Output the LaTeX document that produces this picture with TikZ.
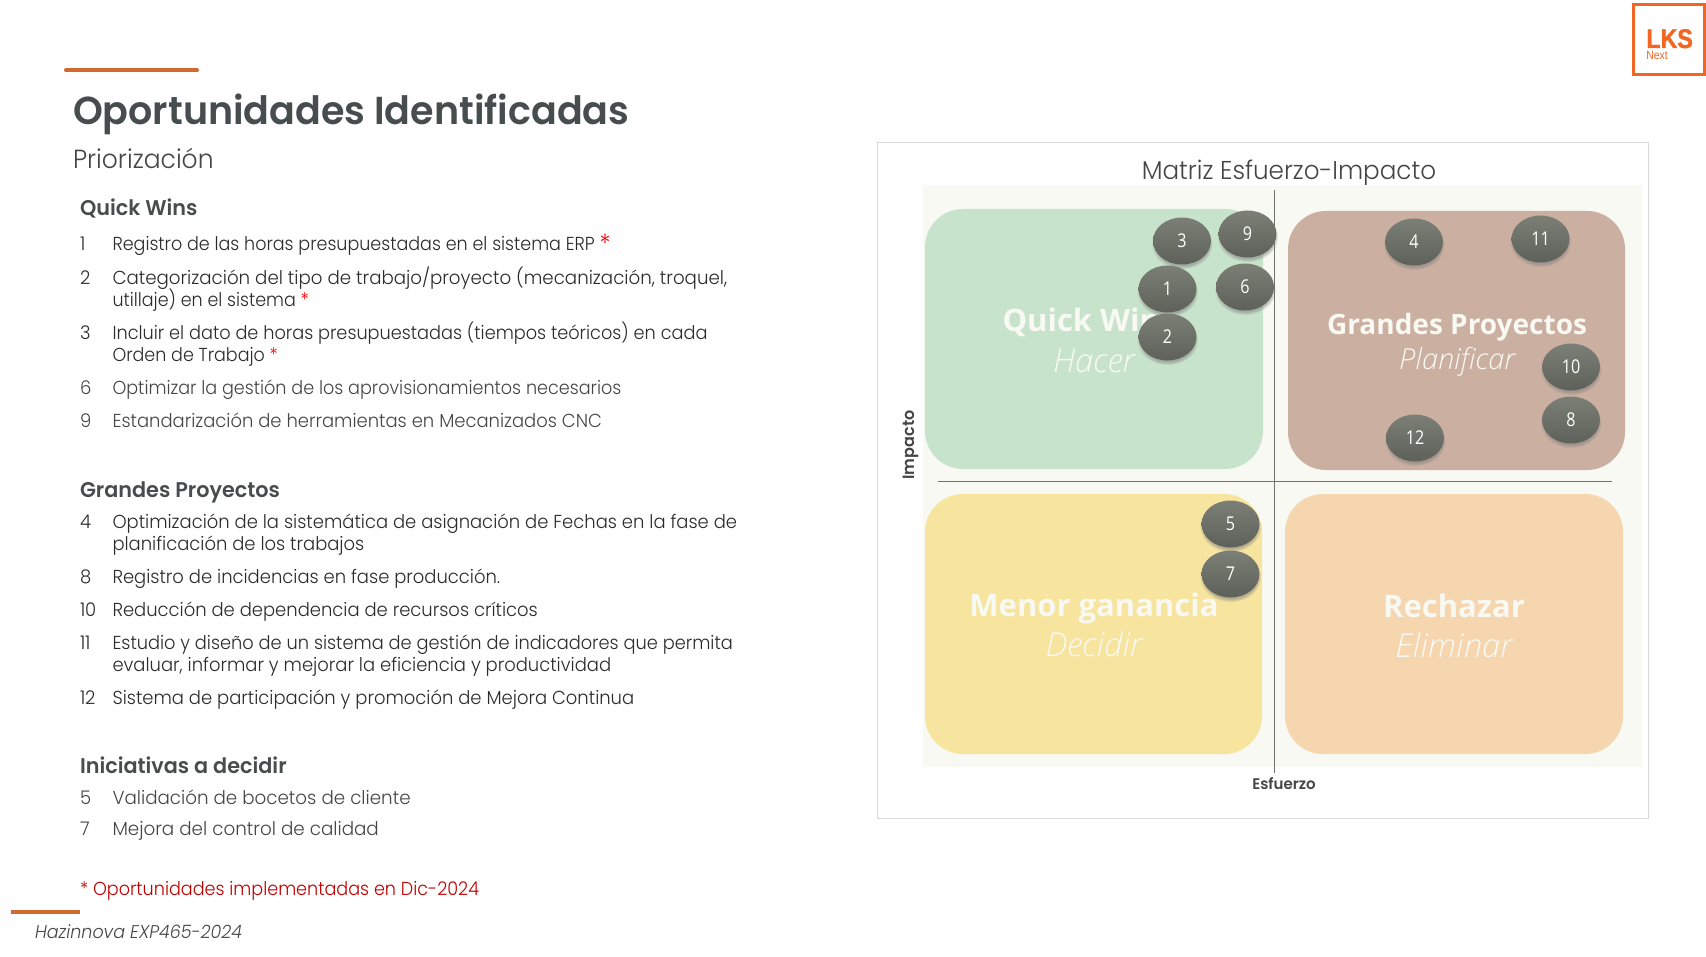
\documentclass[tikz,border=0pt]{standalone}
\usepackage{fontspec}
\usetikzlibrary{shapes.geometric,shadows}
\setmainfont{Poppins Light}[FakeStretch=0.955,BoldFont=Poppins SemiBold,BoldFeatures={FakeStretch=0.975},ItalicFont=Poppins Light Italic,ItalicFeatures={FakeStretch=0.95}]
\newfontfamily\quadfont{Open Sans}
\newfontfamily\quadlight{Open Sans Light}[ItalicFont=Open Sans Light Italic]
\newfontfamily\dotfont{Open Sans}[FakeStretch=0.85]
\newfontfamily\logofont{Liberation Sans}[FakeStretch=0.86,BoldFeatures={FakeStretch=0.86,FakeBold=1.2}]
\definecolor{titlegrey}{HTML}{474D4D}
\definecolor{bodydark}{HTML}{2B2B2B}
\definecolor{bodygrey}{HTML}{454545}
\definecolor{lksline}{HTML}{D2692F}
\definecolor{lksorange}{HTML}{F26522}
\definecolor{implred}{HTML}{C00000}
\definecolor{framegrey}{HTML}{D9D9D9}
\definecolor{panelbg}{HTML}{F8F9F3}
\definecolor{qgreen}{HTML}{C8E3CB}
\definecolor{qbrown}{HTML}{CBAFA0}
\definecolor{qyellow}{HTML}{F7E49F}
\definecolor{qorange}{HTML}{F6D6AF}
\definecolor{axisgrey}{HTML}{6F7269}
\definecolor{dottop}{HTML}{7B7F76}
\definecolor{dotbottom}{HTML}{5E6159}
\newcommand{\impl}{\textcolor{red}{\raisebox{0pt}{*}}}
\newcommand{\implbig}{\textcolor{red}{\raisebox{-1pt}{\fontsize{12.5}{12}\selectfont *}}}
\newcommand{\hs}[2]{\scalebox{#1}[1]{#2}}
\begin{document}
\begin{tikzpicture}[x=0.5pt,y=-0.5pt]
		\tikzset{txt/.style = {anchor=base west, inner sep=0pt, outer sep=0pt}}
		\tikzset{head/.style = {txt, text=titlegrey, font=\fontsize{10.65}{12}\selectfont\bfseries}}
		\tikzset{item/.style = {txt, text=bodydark, font=\fontsize{9.4}{12}\selectfont}}
		\tikzset{itemgrey/.style = {item, text=bodygrey}}
		\tikzset{qbig/.style = {anchor=base, inner sep=0pt, text=panelbg, font=\quadfont\fontsize{15.5}{20}\selectfont\bfseries}}
		\tikzset{qsmall/.style = {anchor=base, inner sep=0pt, text=panelbg, font=\quadlight\fontsize{16.5}{20}\selectfont\itshape}}
		\tikzset{dot/.style = {ellipse, minimum width=29pt, minimum height=23.5pt, inner sep=0pt, top color=dottop, bottom color=dotbottom, text=white, font=\dotfont\fontsize{9.5}{10}\selectfont, circular drop shadow={shadow xshift=0pt, shadow yshift=-1.5pt, shadow scale=1.06, opacity=.55}}}
		\tikzset{edge/.style = {axisgrey, line width=0.5pt}}
		\tikzset{bar/.style = {lksline, line width=2pt}}
		
		\useasboundingbox (0,0) rectangle (1706,957);
		
		\coordinate (bar1a) at (66,70.5);
		\coordinate (bar1b) at (197,70.5);
		\coordinate (bar2a) at (11,912);
		\coordinate (bar2b) at (80,912);
		\draw[bar, line cap=round] (bar1a) to (bar1b);
		\draw[bar] (bar2a) to (bar2b);
		
		\node[txt, text=titlegrey, font=\fontsize{19.5}{24}\selectfont\bfseries] (title) at (73,125) {Oportunidades Identificadas};
		\node[txt, text=bodygrey, font=\fontsize{13.1}{16}\selectfont] (subtitle) at (73,169) {Priorización};
		
		\node[head] (h1) at (80,215) {Quick Wins};
		\node[item] (n1) at (80,250) {1};
		\node[item] (t1) at (112.5,250) {\hs{.976}{Registro de las horas presupuestadas en el sistema ERP \implbig}};
		\node[item] (n2) at (80,284) {2};
		\node[item] (t2) at (112.5,284) {\hs{1.014}{Categorización del tipo de trabajo/proyecto (mecanización, troquel,}};
		\node[item] (t2b) at (112.5,306.5) {\hs{.975}{utillaje) en el sistema \impl}};
		\node[item] (n3) at (80,339) {3};
		\node[item] (t3) at (112.5,339) {\hs{.986}{Incluir el dato de horas presupuestadas (tiempos teóricos) en cada}};
		\node[item] (t3b) at (112.5,361.5) {\hs{.975}{Orden de Trabajo \impl}};
		\node[itemgrey] (n6) at (80,394) {6};
		\node[itemgrey] (t6) at (112.5,394) {\hs{.98}{Optimizar la gestión de los aprovisionamientos necesarios}};
		\node[itemgrey] (n9) at (80,427) {9};
		\node[itemgrey] (t9) at (112.5,427) {Estandarización de herramientas en Mecanizados CNC};
		
		\node[head] (h2) at (80,497) {Grandes Proyectos};
		\node[item] (n4) at (80,528) {4};
		\node[item] (t4) at (112.5,528) {Optimización de la sistemática de asignación de Fechas en la fase de};
		\node[item] (t4b) at (112.5,550) {planificación de los trabajos};
		\node[item] (n8) at (80,583) {8};
		\node[item] (t8) at (112.5,583) {Registro de incidencias en fase producción.};
		\node[item] (n10) at (80,616) {10};
		\node[item] (t10) at (112.5,616) {Reducción de dependencia de recursos críticos};
		\node[item] (n11) at (80,649) {11};
		\node[item] (t11) at (112.5,649) {\hs{.99}{Estudio y diseño de un sistema de gestión de indicadores que permita}};
		\node[item] (t11b) at (112.5,671) {evaluar, informar y mejorar la eficiencia y productividad};
		\node[item] (n12) at (80,704) {12};
		\node[item] (t12) at (112.5,704) {Sistema de participación y promoción de Mejora Continua};
		
		\node[head] (h3) at (80,773) {Iniciativas a decidir};
		\node[itemgrey] (n5) at (80,804) {5};
		\node[itemgrey] (t5) at (112.5,804) {\hs{1.018}{Validación de bocetos de cliente}};
		\node[itemgrey] (n7) at (80,835) {7};
		\node[itemgrey] (t7) at (112.5,835) {\hs{1.02}{Mejora del control de calidad}};
		
		\node[item, text=implred] (note) at (80,895) {\hs{.98}{* Oportunidades implementadas en Dic-2024}};
		\node[itemgrey, font=\fontsize{9.2}{12}\selectfont\itshape] (foot) at (35,938) {Hazinnova EXP465-2024};
		
		\node[draw=lksorange, line width=1.5pt, minimum width=35.5pt, minimum height=35pt, inner sep=0pt] (logo) at (1668.5,39.5) {};
		\node[anchor=base west, inner sep=0pt, text=lksorange, font=\logofont\fontsize{13.5}{14}\selectfont\bfseries] (lks) at (1646,48) {LKS};
		\node[anchor=base west, inner sep=0pt, text=lksorange, font=\logofont\fontsize{6}{6}\selectfont] (next) at (1646,60) {Next};
		
		\draw[framegrey, line width=0.5pt] (877,142.5) rectangle (1648,818);
		\node[anchor=base, inner sep=0pt, text=bodygrey, font=\fontsize{12.9}{16}\selectfont] (mtitle) at (1289,180) {Matriz Esfuerzo-Impacto};
		\fill[panelbg] (923,185) rectangle (1642,767);
		
		\fill[qgreen, rounded corners=19pt] (925,209) rectangle (1263,469);
		\fill[qbrown, rounded corners=19pt] (1288,211) rectangle (1625,470);
		\fill[qyellow, rounded corners=19pt] (925,494) rectangle (1262,754);
		\fill[qorange, rounded corners=19pt] (1285,494) rectangle (1623,754);
		
		\coordinate (vtop) at (1274.5,190);
		\coordinate (vbot) at (1274.5,773);
		\coordinate (hleft) at (938,481);
		\coordinate (hright) at (1612,481);
		\draw[edge] (vtop) to (vbot);
		\draw[edge] (hleft) to (hright);
		
		\node[anchor=base, rotate=90, inner sep=0pt, text=bodygrey, font=\fontsize{8.2}{10}\selectfont\bfseries] (impacto) at (914,445) {Impacto};
		\node[anchor=base, inner sep=0pt, text=bodygrey, font=\fontsize{7.7}{10}\selectfont\bfseries] (esfuerzo) at (1284,789) {Esfuerzo};
		
		\node[qbig] (qw) at (1089,331) {Quick Wins};
		\node[qsmall] (qwb) at (1094,372) {Hacer};
		\node[qbig, font=\quadfont\fontsize{14}{20}\selectfont\bfseries] (gp) at (1457,334) {Grandes Proyectos};
		\node[qsmall, font=\quadlight\fontsize{14.5}{20}\selectfont\itshape] (gpb) at (1457,369) {Planificar};
		\node[qbig] (mg) at (1094,616) {Menor ganancia};
		\node[qsmall] (mgb) at (1094,656) {Decidir};
		\node[qbig] (re) at (1454,617) {Rechazar};
		\node[qsmall] (reb) at (1454,657) {Eliminar};
		
		\node[dot] (d3) at (1182,241) {3};
		\node[dot] (d9) at (1247.5,234) {9};
		\node[dot] (d1) at (1167.5,289) {1};
		\node[dot] (d6) at (1245,287) {6};
		\node[dot] (d2) at (1167.5,337) {2};
		\node[dot] (d4) at (1414,242) {4};
		\node[dot] (d11) at (1540.5,239) {11};
		\node[dot] (d10) at (1571,367) {10};
		\node[dot] (d8) at (1571,420) {8};
		\node[dot] (d12) at (1415,438) {12};
		\node[dot] (d5) at (1230.5,524) {5};
		\node[dot] (d7) at (1230.5,574) {7};
\end{tikzpicture}
\end{document}
